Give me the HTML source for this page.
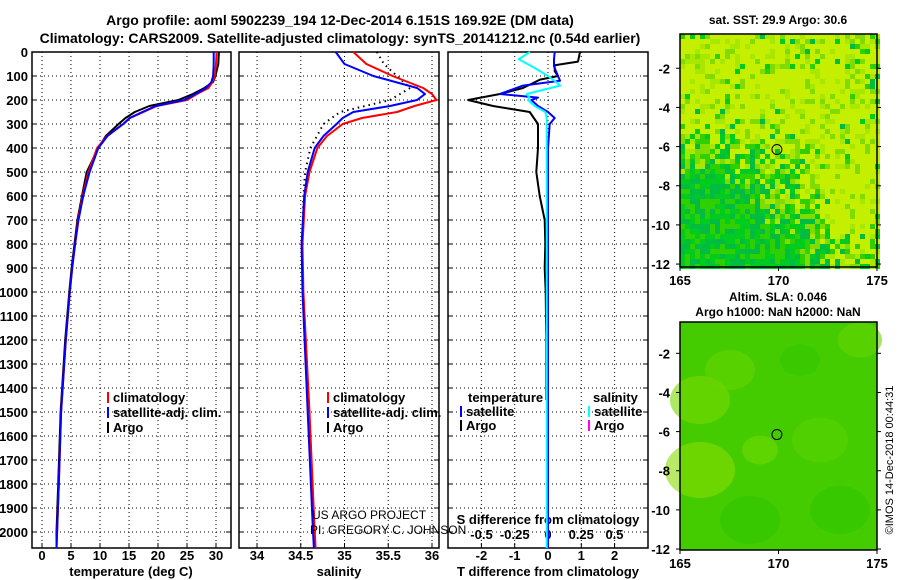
<!DOCTYPE html>
<html><head><meta charset="utf-8"><style>
html,body{margin:0;padding:0;background:#fff;}
svg{display:block;font-family:"Liberation Sans",sans-serif;}
.b{font-weight:bold;font-size:13px;}
</style></head><body>
<svg id="s" width="900" height="580" viewBox="0 0 900 580">
<text x="340" y="25" text-anchor="middle" class="b" style="font-size:14px">Argo profile: aoml 5902239_194 12-Dec-2014 6.151S 169.92E (DM data)</text>
<text x="340" y="43" text-anchor="middle" class="b" style="font-size:14px">Climatology: CARS2009. Satellite-adjusted climatology: synTS_20141212.nc (0.54d earlier)</text>
<g id="maps"></g>
<g id="plots"></g>
</svg>
<script>
// ---- data ----
const tDepth=[0,50,100,125,150,175,200,225,250,275,300,350,400,500,600,700,800,900,1000,1200,1500,1800,2000,2067];
const tClim=[30.1,30,29.8,29.4,28.7,26.7,25,19.8,17.5,15.2,14,11.2,9.5,8,7,6.2,5.7,5.2,4.8,4.1,3.3,2.9,2.6,2.5];
const tSat=[29.6,29.6,29.5,29.2,28.3,26.5,24.5,19.6,17.3,15.1,14,11.3,9.7,8.2,7.1,6.3,5.7,5.2,4.8,4.1,3.3,2.9,2.6,2.5];
const tArgo=[30.5,30.4,29.9,29.5,28,26,23.5,18.5,16,14.4,13.2,11,9.7,7.7,6.9,6.1,5.6,5.1,4.7,4.0,3.2,2.8,2.5,2.5];
const sDepth=[0,50,100,150,175,200,225,250,275,300,350,400,500,600,800,1000,1500,2000,2067];
const sClim=[35.1,35.25,35.55,35.9,36.0,36.05,35.8,35.6,35.2,34.98,34.8,34.69,34.6,34.55,34.52,34.53,34.6,34.66,34.67];
const sSat=[34.9,35.0,35.33,35.83,35.92,35.83,35.52,35.1,34.98,34.91,34.76,34.66,34.58,34.54,34.51,34.52,34.58,34.64,34.65];
const aDepth=[0,50,100,150,200,250,300,400,500,600,800];
const sArgo=[35.37,35.45,35.6,35.75,35.52,34.95,34.76,34.61,34.55,34.53,34.52];
const dDepth=[0,40,55,80,100,115,150,175,200,225,250,300,400,500,600,700,800,900,1000,1200,1450];
const dTArgo=[0.96,0.9,0.2,0.2,0.3,-0.24,-0.75,-1.44,-2.4,-1.65,-0.55,-0.3,-0.3,-0.35,-0.25,-0.1,-0.08,-0.1,-0.07,-0.05,-0.05];
const sdDepth=[0,30,60,100,120,140,175,190,200,225,250,275,300,400,1000,2067];
const dTSat=[0.2,0.18,0.18,0.3,0.36,-0.75,-1.44,-0.3,-0.5,-0.3,0,0.2,0.05,0,0,0];
const dSSat=[-0.135,-0.22,-0.12,0,0.05,0.09,-0.16,-0.14,-0.15,-0.1,-0.02,-0.01,-0.01,-0.01,-0.01,-0.01];
const tTicks=[0,5,10,15,20,25,30];
const sTicks=[34,34.5,35,35.5,36];
const dTTicks=[-2,-1,0,1,2];
const dSTicks=[-0.5,-0.25,0,0.25,0.5];
const depthTicks=[0,100,200,300,400,500,600,700,800,900,1000,1100,1200,1300,1400,1500,1600,1700,1800,1900,2000];

const NS='http://www.w3.org/2000/svg';
const plots=document.getElementById('plots');
function mk(tag,attrs,parent,name){const e=document.createElementNS(NS,tag);for(const k in attrs)e.setAttribute(k,attrs[k]);


(parent||plots).appendChild(e);return e;}
function txt(x,y,s,anchor,name,cls,extra){const t=mk('text',Object.assign({x:x,y:y,'text-anchor':anchor||'middle',class:cls===undefined?'b':cls},extra||{}),null,name);t.textContent=s;return t;}
const yTop=52,yPer=0.24,yBot=548;
const Y=d=>yTop+d*yPer;
const xT=v=>42+v*5.8;
const xS=v=>257+(v-34)*87.5;
const xD=v=>548+v*33.3;
const xDS=v=>548+v*133;
function line(depths,vals,xf,color,name,dash,w){let p='';for(let i=0;i<vals.length;i++){p+=(i?'L':'M')+xf(vals[i]).toFixed(1)+','+Y(depths[i]).toFixed(1);}
const a={d:p,fill:'none',stroke:color,'stroke-width':w||2,'stroke-linejoin':'round'};if(dash)a['stroke-dasharray']=dash;mk('path',a,null,name);}
function panel(x0,x1,gridX,name){
  for(const d of depthTicks){mk('line',{x1:x0,x2:x1,y1:Y(d),y2:Y(d),stroke:'#000','stroke-dasharray':'1,3'},null,'grid-h');
   mk('line',{x1:x0,x2:x0+5,y1:Y(d),y2:Y(d),stroke:'#000'},null,'tick');mk('line',{x1:x1-5,x2:x1,y1:Y(d),y2:Y(d),stroke:'#000'},null,'tick');}
  for(const gx of gridX){mk('line',{x1:gx,x2:gx,y1:yTop,y2:yBot,stroke:'#000','stroke-dasharray':'1,3'},null,'grid-v');
   mk('line',{x1:gx,x2:gx,y1:yBot,y2:yBot-5,stroke:'#000'},null,'tick');}
  mk('rect',{x:x0,y:yTop,width:x1-x0,height:yBot-yTop,fill:'none',stroke:'#000','stroke-width':1.5},null,name);
}
// panel 1
panel(32,231,tTicks.map(xT),'temperature-plot-frame');
for(const d of depthTicks)txt(28,Y(d)+5,String(d),'end','depth-tick-label');
tTicks.forEach(v=>txt(xT(v),560,String(v),'middle','temp-tick-label'));
txt(131,576,'temperature (deg C)','middle','temp-axis-title');
line(tDepth,tArgo,xT,'#000','argo-temp-line');
line(tDepth,tClim,xT,'#f00','clim-temp-line');
line(tDepth,tSat,xT,'#00f','sat-temp-line');
// panel 2
panel(239,439,sTicks.map(xS),'salinity-plot-frame');
sTicks.forEach(v=>txt(xS(v),560,String(v),'middle','sal-tick-label'));
txt(339,576,'salinity','middle','sal-axis-title');
line(aDepth,sArgo,xS,'#000','argo-sal-line','1.5,4');
line(sDepth,sClim,xS,'#f00','clim-sal-line');
line(sDepth,sSat,xS,'#00f','sat-sal-line');
// panel 3
panel(448,648,dTTicks.map(xD),'difference-plot-frame');
dTTicks.forEach(v=>txt(xD(v),560,String(v),'middle','tdiff-tick-label'));
dSTicks.forEach(v=>txt(xDS(v),539,String(v),'middle','sdiff-tick-label'));
txt(548,576,'T difference from climatology','middle','tdiff-axis-title');
txt(548,524,'S difference from climatology','middle','sdiff-axis-title');
line(dDepth,dTArgo,xD,'#000','argo-tdiff-line');
line(sdDepth,dTSat,xD,'#00f','sat-tdiff-line');
line(sdDepth,dSSat,xDS,'#0ff','sat-sdiff-line');
// legends
function leg(x,y,color,label,name){mk('rect',{x:x,y:y-10,width:2,height:11,fill:color},null,name+'-swatch');txt(x+6,y,label,'start',name);}
leg(107,402,'#f00','climatology','legend-climatology');leg(107,417,'#00f','satellite-adj. clim.','legend-satellite');leg(107,432,'#000','Argo','legend-argo');
leg(327,402,'#f00','climatology','legend2-climatology');leg(327,417,'#00f','satellite-adj. clim.','legend2-satellite');leg(327,432,'#000','Argo','legend2-argo');
txt(468,402,'temperature','start','legend3-temperature');
leg(460,416,'#00f','satellite','legend3-t-satellite');leg(460,430,'#000','Argo','legend3-t-argo');
txt(593,402,'salinity','start','legend3-salinity');
leg(588,416,'#0ff','satellite','legend3-s-satellite');leg(588,430,'#f0f','Argo','legend3-s-argo');
txt(312,519,'US ARGO PROJECT','start','credit-project','',{style:'font-size:12px'});
txt(310,534,'PI: GREGORY C. JOHNSON','start','credit-pi','',{style:'font-size:12px'});
// ---- maps ----
const maps=document.getElementById('maps');
const mapLatTicks=[-2,-4,-6,-8,-10,-12];
const mapLonTicks=[165,170,175];
function hash(i,j){let h=(i*374761393+j*668265263)>>>0;h=((h^(h>>>13))*1274126177)>>>0;return ((h^(h>>>16))>>>0)/4294967296;}
function drawMap(top,bot,latTop,latBot,kind,name){
  const x0=680,x1=877;const lx=v=>x0+(v-165)/10*(x1-x0);const ly=v=>top+(latTop-v)/(latTop-latBot)*(bot-top);
  const g=mk('g',{},maps,name);
  if(kind==='sst'){
    const cols=['#c4f000','#a8e800','#80dc00','#30d000','#00cc20','#00bc40'];
    const cs=5;
    for(let j=0;j*cs<bot-top;j++)for(let i=0;i*cs<x1-x0;i++){
      const fy=j*cs/(bot-top),fx=i*cs/(x1-x0);
      let bias=Math.max(0,(fy-0.65)*1.3)+Math.max(0,(fx-0.78)*(0.35-fy)*5)+0.06;
      if(fx>0.7&&fy>0.55&&fy<0.85)bias*=0.2;
      const r=hash(i,j);let k=0;
      if(r<bias*0.9)k=3+Math.floor(hash(j,i)*3);else if(r<bias*1.2+0.22)k=1+Math.floor(hash(i+7,j)*2);
      mk('rect',{x:x0+i*cs,y:top+j*cs,width:cs,height:cs,fill:cols[Math.min(k,5)]},g,'sst-cell');
    }
  } else {
    mk('rect',{x:x0,y:top,width:x1-x0,height:bot-top,fill:'#44cc00'},g,'sla-background');
    const blobs=[[700,400,30,'#7ad800'],[730,370,25,'#66d400'],[860,340,22,'#66d400'],[820,440,28,'#5ad200'],[700,470,35,'#88dc00'],[750,520,30,'#30c400'],[840,510,30,'#30c400'],[800,360,20,'#34c400'],[760,450,18,'#70d800']];
    blobs.forEach(b=>mk('ellipse',{cx:b[0],cy:b[1],rx:b[2],ry:b[2]*0.8,fill:b[3],opacity:0.6},g,'sla-blob'));
  }
  mk('rect',{x:x0,y:top,width:x1-x0,height:bot-top,fill:'none',stroke:'#000','stroke-width':1.5},maps,name+'-frame');
  mk('circle',{cx:lx(169.92),cy:ly(-6.151),r:5,fill:'none',stroke:'#000'},maps,'float-position-marker');
  mapLatTicks.forEach(v=>{mk('line',{x1:x0-4,x2:x0,y1:ly(v),y2:ly(v),stroke:'#000'},maps,'map-tick');mk('line',{x1:x1,x2:x1+4,y1:ly(v),y2:ly(v),stroke:'#000'},maps,'map-tick');
    const t=mk('text',{x:670,y:ly(v)+5,'text-anchor':'end',class:'b'},maps,'map-lat-label');t.textContent=String(v);});
  mapLonTicks.forEach(v=>{mk('line',{x1:lx(v),x2:lx(v),y1:bot,y2:bot+4,stroke:'#000'},maps,'map-tick');
    const t=mk('text',{x:lx(v),y:bot+18,'text-anchor':'middle',class:'b'},maps,'map-lon-label');t.textContent=String(v);});
}
drawMap(34,267,-0.25,-12.15,'sst','sst-map');
drawMap(322,550,-0.4,-12.05,'sla','sla-map');
function mt(x,y,s,name){const t=mk('text',{x:x,y:y,'text-anchor':'middle',class:'b',style:'font-size:12px'},maps,name);t.textContent=s;}
mt(778,24,'sat. SST: 29.9 Argo: 30.6','sst-map-title');
mt(778,301,'Altim. SLA: 0.046','sla-map-title');
mt(778,316,'Argo h1000: NaN h2000: NaN','sla-map-subtitle');
const c=mk('text',{x:893,y:460,'text-anchor':'middle',transform:'rotate(-90 893 460)',style:'font-size:11px'},maps,'copyright-timestamp');c.textContent='©IMOS 14-Dec-2018 00:44:31';
</script>
</body></html>
